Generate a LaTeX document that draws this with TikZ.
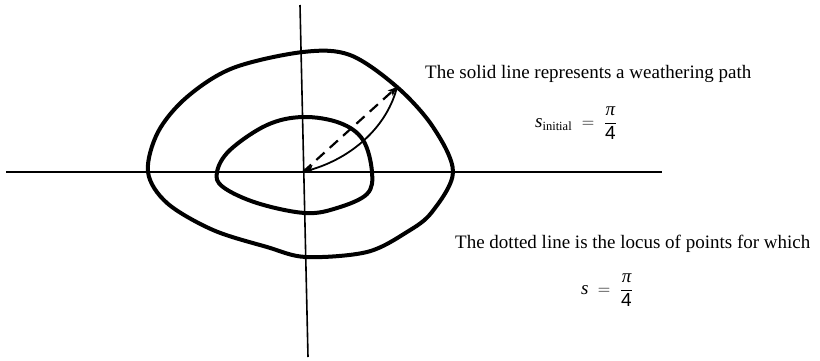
\documentclass[tikz,border=0pt]{standalone}
\usepackage{fontspec}
\setmainfont{Liberation Serif}
\newfontfamily\numfont{Liberation Sans}
\usetikzlibrary{arrows.meta}
\tikzset{
  axis/.style={line width=1.6pt},
  contour/.style={line width=4pt, line join=round},
  pathline/.style={line width=1.8pt, -{Stealth[length=11pt,width=8pt,inset=3pt]}},
  locus/.style={line width=2.2pt, dash pattern=on 11pt off 7pt, -{Stealth[length=9pt,width=7pt,inset=2pt]}},
  label/.style={font=\fontsize{19}{22}\selectfont, inner sep=0pt},
}
\newcommand{\subtxt}[1]{\hbox{\fontsize{12.5}{13}\selectfont #1}}
\begin{document}
\begin{tikzpicture}[x=1pt,y=-1pt]
\useasboundingbox (0,0) rectangle (820,360);
% axes
\coordinate (O) at (303,172);
\coordinate (xl) at (6,172);
\coordinate (xr) at (662,172);
\coordinate (yt) at (300,5);
\coordinate (yb) at (308,357);
\draw[axis] (xl) -- (xr);
\draw[axis] (yt) -- (yb);
% outer contour
\draw[contour] plot[smooth cycle, tension=0.55] coordinates {
  (303,52) (350,55) (397,87) (433,127) (453,172) (432,212) (407,232)
  (367,252) (306,257) (267,247) (213,230) (167,203) (148,172) (158,132)
  (187,97) (233,68)};
% inner contour
\draw[contour] plot[smooth cycle, tension=0.6] coordinates {
  (303,117) (340,123) (363,140) (372,172) (367,194) (337,208) (305,213)
  (257,203) (223,187) (217,172) (230,150) (267,125)};
% weathering path and locus
\coordinate (P) at (397,87);
\draw[pathline] (P) .. controls (388,124) and (355,157) .. (O);
\draw[locus] (O) -- (P);
% texts
\node[label, anchor=base west] (t1) at (425,78) {The solid line represents a weathering path};
\node[label] (e1) at (576,123) {$\displaystyle \textit{s}_{\subtxt{initial}} \;=\; \frac{\textit{π}}{\hbox{\numfont 4}}$};
\node[label, anchor=base west] (t2) at (455,248) {The dotted line is the locus of points for which};
\node[label] (e2) at (607,290) {$\displaystyle \textit{s} \;=\; \frac{\textit{π}}{\hbox{\numfont 4}}$};
\end{tikzpicture}
\end{document}
